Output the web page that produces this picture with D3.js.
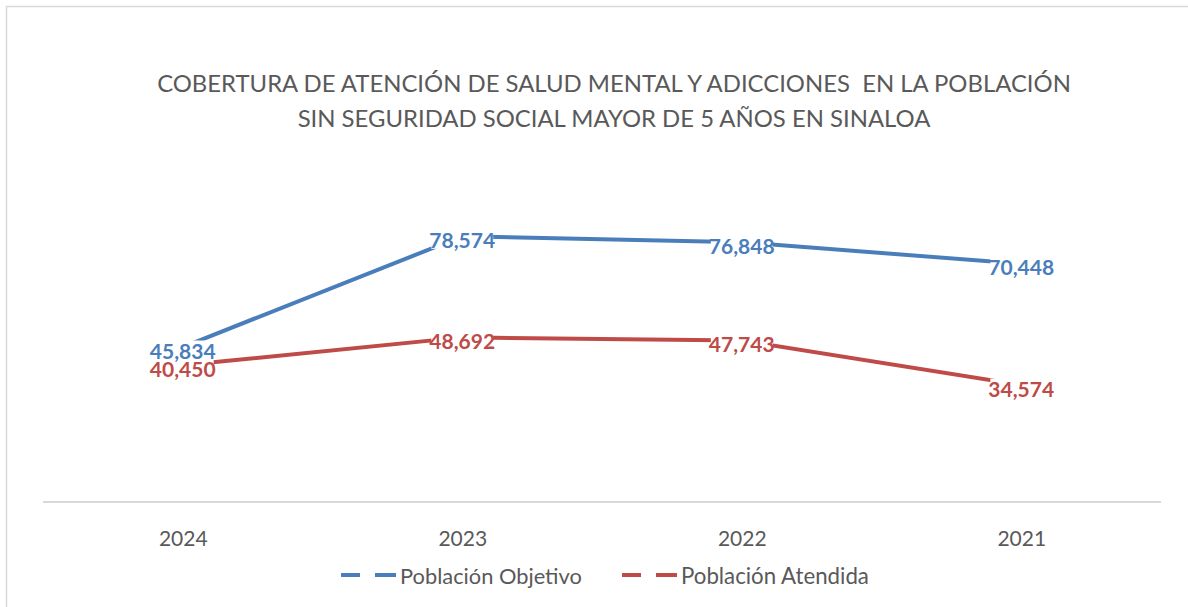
<!DOCTYPE html>
<html lang="es">
<head>
    <meta charset="UTF-8">
    <title>Cobertura de atención de salud mental y adicciones</title>
    <script src="https://d3js.org/d3.v7.min.js"></script>
    <style>
        body { margin: 0; background: #fff; }
        text { font-family: Lato, "Open Sans", sans-serif; }
    </style>
</head>
<body>
    <div id="chart"></div>

    <script>
        // data
        var years = ["2024", "2023", "2022", "2021"];
        var objetivo = [45834, 78574, 76848, 70448];
        var atendida = [40450, 48692, 47743, 34574];
        var seriesNames = ["Población Objetivo", "Población Atendida"];
        var titleLines = [
            "COBERTURA DE ATENCIÓN DE SALUD MENTAL Y ADICCIONES  EN LA POBLACIÓN",
            "SIN SEGURIDAD SOCIAL MAYOR DE 5 AÑOS EN SINALOA"
        ];

        var W = 1188, H = 607;
        var colors = ["#4a7ebb", "#be4b48"];
        var grey = "#595959";

        var svg = d3.select("#chart").append("svg")
            .attr("width", W)
            .attr("height", H);

        // chart border (only top / left visible in the picture)
        svg.append("rect")
            .attr("x", 6.5).attr("y", 6.5)
            .attr("width", W + 20).attr("height", H + 20)
            .attr("fill", "none")
            .attr("stroke", "#d9d9d9")
            .attr("stroke-width", 1.5);

        // scale a text element so its width matches the target
        function fitWidth(sel, target) {
            var w = sel.node().getComputedTextLength();
            var fs = parseFloat(sel.attr("font-size"));
            sel.attr("font-size", fs * target / w);
            return fs * target / w;
        }

        // title
        var t1 = svg.append("text")
            .attr("x", 614).attr("y", 92)
            .attr("text-anchor", "middle")
            .attr("font-size", 22)
            .attr("fill", grey)
            .style("white-space", "pre")
            .text(titleLines[0]);
        var tfs = fitWidth(t1, 914);
        svg.append("text")
            .attr("x", 614).attr("y", 127)
            .attr("text-anchor", "middle")
            .attr("font-size", tfs)
            .attr("fill", grey)
            .text(titleLines[1]);

        // scales
        var x = d3.scalePoint()
            .domain(years)
            .range([43, 1161])
            .padding(0.5);

        var y = d3.scaleLinear()
            .domain([0, 90000])
            .range([502, 502 - 90 * 3.381]);

        // x axis
        var xAxis = svg.append("g")
            .attr("transform", "translate(0," + y(0) + ")")
            .call(d3.axisBottom(x).tickSize(0).tickPadding(29));
        xAxis.select(".domain")
            .attr("d", "M43,0H1161")
            .attr("stroke", "#d9d9d9")
            .attr("stroke-width", 2);
        xAxis.selectAll(".tick text")
            .attr("fill", grey)
            .attr("font-size", 21)
            .attr("font-family", "Lato, sans-serif");

        // lines
        var line = d3.line()
            .x(function (d, i) { return x(years[i]); })
            .y(function (d) { return y(d); });

        var allSeries = [objetivo, atendida];

        allSeries.forEach(function (vals, s) {
            svg.append("path")
                .datum(vals)
                .attr("fill", "none")
                .attr("stroke", colors[s])
                .attr("stroke-width", 4)
                .attr("stroke-linejoin", "round")
                .attr("d", line);
        });

        // data labels (centered on points, with a white box under them)
        var fmt = d3.format(",");
        var boxLayer = svg.append("g");
        var textLayer = svg.append("g");
        allSeries.forEach(function (vals, s) {
            vals.forEach(function (v, i) {
                var txt = textLayer.append("text")
                    .attr("x", x(years[i]))
                    .attr("y", y(v) + 3)
                    .attr("text-anchor", "middle")
                    .attr("dominant-baseline", "central")
                    .attr("font-weight", "bold")
                    .attr("font-size", 21)
                    .attr("fill", colors[s])
                    .text(fmt(v));
                var bb = txt.node().getBBox();
                boxLayer.append("rect")
                    .attr("x", bb.x + 2)
                    .attr("y", bb.y + 3)
                    .attr("width", bb.width - 4)
                    .attr("height", bb.height - 6)
                    .attr("fill", "#fff");
            });
        });

        // legend
        var legendX = [341, 622];
        var legendW = [182, 188];
        seriesNames.forEach(function (name, s) {
            var lx = legendX[s];
            svg.append("line")
                .attr("x1", lx).attr("x2", lx + 55)
                .attr("y1", 575).attr("y2", 575)
                .attr("stroke", colors[s])
                .attr("stroke-width", 4)
                .attr("stroke-dasharray", "19,15,21");
            var lt = svg.append("text")
                .attr("x", lx + 59)
                .attr("y", 575)
                .attr("dominant-baseline", "central")
                .attr("font-size", 18)
                .attr("fill", grey)
                .text(name);
            fitWidth(lt, legendW[s]);
        });
    </script>
</body>
</html>
